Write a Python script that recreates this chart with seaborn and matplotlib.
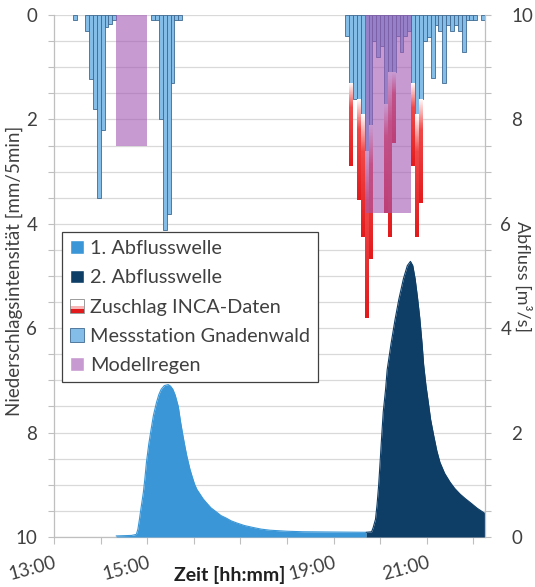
import numpy as np
import pandas as pd
import matplotlib
matplotlib.use("Agg")
import matplotlib.pyplot as plt
from matplotlib.colors import LinearSegmentedColormap
from matplotlib.patches import Rectangle, Patch
from matplotlib.legend_handler import HandlerBase
from matplotlib.transforms import ScaledTranslation
import seaborn as sns

# Niederschlag Messstation Gnadenwald [mm/5min], Bloecke ab Startzeit
station_start = ["13:25", "15:05", "19:15"]
station_a = [0.1, 0, 0, 0.3, 1.23, 1.8, 3.5, 2.2, 0.22, 0.17, 0.1]
station_b = [0.1, 0.1, 2.0, 4.12, 3.82, 1.3, 0.1, 0.1]
station_c = [0.4, 1.3, 1.6, 1.6, 1.9, 2.6, 2.1, 0.5, 0.8, 0.6, 1.7, 1.1,
             1.1, 0.4, 0.7, 0.4, 0.3, 1.3, 1.9, 1.6, 0.5, 0.42, 1.2, 0.2,
             0.3, 1.3, 0.2, 0.3, 0.2, 0.3, 0.7, 0.1, 0.1, 0.1, 0.0, 0.1]
# Zuschlag INCA-Daten: Gesamttiefe (Station + Zuschlag), 0 = kein Zuschlag
inca_c = [0, 2.9, 0, 3.55, 4.25, 5.8, 4.68, 0, 0, 0, 3.8, 4.25,
          2.46, 0, 0, 0, 0, 2.9, 4.25, 3.6, 0, 0, 0, 0,
          0, 0, 0, 0, 0, 0, 0, 0, 0, 0, 0, 0]

# Modellregen
model_start = ["14:20", "19:40"]
model_end = ["15:00", "20:40"]
model_value = [2.5, 3.8]

# Abfluss [m3/s]
wave1_time = ["14:20", "14:40", "14:46", "14:48", "14:50", "14:52", "14:55",
              "14:57", "14:59", "15:02", "15:05", "15:08", "15:12", "15:15",
              "15:18", "15:22", "15:27", "15:30", "15:33", "15:36", "15:40",
              "15:43", "15:46", "15:49", "15:51", "15:55", "15:58", "16:01",
              "16:04", "16:08", "16:12", "16:16", "16:22", "16:29", "16:35",
              "16:42", "16:48", "16:55", "17:05", "17:17", "17:27", "17:38",
              "18:00", "18:21", "19:00", "19:42"]
wave1_q = [0.02, 0.03, 0.05, 0.15, 0.34, 0.55, 0.85, 1.12, 1.43, 1.78, 2.06,
           2.33, 2.58, 2.73, 2.83, 2.90, 2.92, 2.89, 2.83, 2.72, 2.50, 2.20,
           1.94, 1.70, 1.55, 1.30, 1.15, 1.01, 0.91, 0.82, 0.73, 0.66, 0.56,
           0.48, 0.41, 0.36, 0.31, 0.27, 0.22, 0.18, 0.15, 0.13, 0.11, 0.10,
           0.095, 0.09]
wave2_time = ["19:42", "19:49", "19:51", "19:54", "19:56", "19:58", "20:00",
              "20:02", "20:04", "20:07", "20:09", "20:14", "20:19", "20:24",
              "20:30", "20:35", "20:39", "20:42", "20:45", "20:48", "20:51",
              "20:54", "20:56", "20:59", "21:02", "21:05", "21:09", "21:13",
              "21:17", "21:23", "21:30", "21:36", "21:43", "21:50", "21:56",
              "22:05", "22:15"]
wave2_q = [0.09, 0.10, 0.18, 0.34, 0.62, 0.98, 1.45, 1.94, 2.40, 2.83, 3.20,
           3.70, 4.15, 4.55, 4.95, 5.20, 5.28, 5.20, 4.95, 4.60, 4.20, 3.70,
           3.30, 2.90, 2.58, 2.25, 1.94, 1.65, 1.43, 1.22, 1.05, 0.93, 0.82,
           0.73, 0.66, 0.55, 0.45]

xtick_labels = {"13:00": "13:00", "15:00": "15:00", "19:00": "19:00", "21:00": "21:00"}


def to_min(s):
    h, m = s.split(":")
    return (int(h) - 13) * 60 + int(m)


sns.set_theme(style="white")
plt.rcParams['font.family'] = ['Lato', 'DejaVu Sans']
txt = '#404040'
fs = 13.5

fig, ax = plt.subplots(figsize=(5.35, 5.87), dpi=100)
fig.subplots_adjust(left=0.101, right=0.9065, bottom=0.0852, top=0.9744)
ax2 = ax.twinx()

# Niederschlag
rows = []
for start, vals in zip(station_start, [station_a, station_b, station_c]):
    for k, v in enumerate(vals):
        rows.append([to_min(start) + 5 * k, v])
df_st = pd.DataFrame(rows, columns=['t', 'mm'])
df_st = df_st[df_st['mm'] > 0]
ax.bar(df_st['t'], df_st['mm'], width=5, align='edge', color='#84bde8',
       edgecolor='#3f6890', linewidth=0.6, zorder=3)

inca_cmap = LinearSegmentedColormap.from_list(
    'inca', [(0, 'white'), (0.3, '#f04848'), (1, '#e31a1c')])
grad = np.linspace(0, 1, 100).reshape(-1, 1)
t0 = to_min(station_start[2])
for k, (st, tot) in enumerate(zip(station_c, inca_c)):
    if tot <= 0:
        continue
    t = t0 + 5 * k
    bars = ax.bar([t], [tot - st], bottom=[st], width=5, align='edge',
                  color='none', edgecolor='none', zorder=3)
    im = ax.imshow(grad, extent=[t, t + 5, st, tot], origin='lower',
                   cmap=inca_cmap, aspect='auto', zorder=3)
    im.set_clip_path(bars.patches[0])

for s, e, v in zip(model_start, model_end, model_value):
    ax.bar([to_min(s)], [v], width=to_min(e) - to_min(s), align='edge',
           color='#a358b4', alpha=0.6, linewidth=0, zorder=5)

# Abfluss
for times, q, col in [(wave1_time, wave1_q, '#3a96d6'), (wave2_time, wave2_q, '#0e3d66')]:
    tt = [to_min(s) for s in times]
    ax2.fill_between(tt, q, 0, color=col, linewidth=0, zorder=2)
    sns.lineplot(x=tt, y=q, ax=ax2, color=col, linewidth=0.8, legend=False)

ax.set_xlim(0, 555)
ax.set_ylim(10, 0)
ax2.set_ylim(0, 10)

ax.set_yticks(np.arange(0, 10.1, 2))
ax.set_yticks(np.arange(0, 10.1, 0.5), minor=True)
ax2.set_yticks(np.arange(0, 10.1, 2))
ax2.set_yticks(np.arange(0, 10.1, 0.5), minor=True)
ax.yaxis.grid(True, which='both', color='#d9d9d9', linewidth=0.9, zorder=0)
ax.set_axisbelow(True)

hours = [f"{h}:00" for h in range(13, 23)]
ax.set_xticks([to_min(h) for h in hours])
ax.set_xticklabels([xtick_labels.get(h, "") for h in hours], rotation=15,
                   ha='right', rotation_mode='anchor')

for a in (ax, ax2):
    for sp in a.spines.values():
        sp.set_visible(False)
    a.tick_params(which='both', direction='out', color='#bfbfbf', length=4,
                  width=0.8, labelsize=fs, labelcolor=txt)
ax.spines['left'].set_visible(True)
ax.spines['bottom'].set_visible(True)
ax2.spines['right'].set_visible(True)
for sp in [ax.spines['left'], ax.spines['bottom'], ax2.spines['right']]:
    sp.set_color('#bfbfbf')
    sp.set_linewidth(0.9)
ax.tick_params(axis='y', which='both', left=True, pad=8)
ax.tick_params(axis='x', bottom=True, length=5, pad=7)
ax2.tick_params(axis='y', which='both', right=True, pad=15)

# 4 und 6 rechts etwas nach links, Platz fuer den Achsentitel
fig.canvas.draw()
for tick in ax2.yaxis.get_major_ticks():
    if tick.label2.get_text() in ('4', '6'):
        tick.label2.set_transform(tick.label2.get_transform()
                                  + ScaledTranslation(-11 / 100, 0, fig.dpi_scale_trans))

ax.set_ylabel('Niederschlagsintensität [mm/5min]', fontsize=fs, color=txt)
ax.yaxis.set_label_coords(-0.072, 0.51)
ax2.text(1.087, 0.5, 'Abfluss [m³/s]', transform=ax2.transAxes, rotation=270,
         ha='center', va='center', fontsize=13, color=txt)
ax.text(0.408, -0.073, 'Zeit [hh:mm]', transform=ax.transAxes, ha='center',
        va='center', fontsize=14, fontweight='bold', color='#202020')


class GradientHandler(HandlerBase):
    def create_artists(self, legend, orig_handle, xdescent, ydescent, width,
                       height, fontsize, trans):
        cols = ['white', 'white', '#f7b5b5', '#e31a1c']
        n = len(cols)
        arts = []
        for k, c in enumerate(cols):
            r = Rectangle((-xdescent, -ydescent + height * (n - 1 - k) / n),
                          width, height / n, facecolor=c, edgecolor='none',
                          transform=trans)
            arts.append(r)
        arts.append(Rectangle((-xdescent, -ydescent), width, height,
                              facecolor='none', edgecolor='#8c8c8c',
                              linewidth=0.6, transform=trans))
        return arts


inca_handle = Patch(facecolor='#e31a1c')
handles = [Patch(facecolor='#3a96d6'), Patch(facecolor='#0e3d66'), inca_handle,
           Patch(facecolor='#84bde8', edgecolor='#3f6890', linewidth=0.6),
           Patch(facecolor='#c89ad2')]
labels = ['1. Abflusswelle', '2. Abflusswelle', 'Zuschlag INCA-Daten',
          'Messstation Gnadenwald', 'Modellregen']
leg = ax2.legend(handles, labels, loc='upper left', bbox_to_anchor=(0.0186, 0.584),
                 borderaxespad=0, fontsize=14.3, frameon=True, fancybox=False,
                 edgecolor='#404040', framealpha=1, handlelength=0.7,
                 handleheight=0.7, handletextpad=0.3, labelspacing=0.62,
                 borderpad=0.4, handler_map={inca_handle: GradientHandler()})
leg.get_frame().set_linewidth(0.9)
for t in leg.get_texts():
    t.set_color(txt)
leg.set_zorder(10)

fig.savefig('out.png', dpi=100)
